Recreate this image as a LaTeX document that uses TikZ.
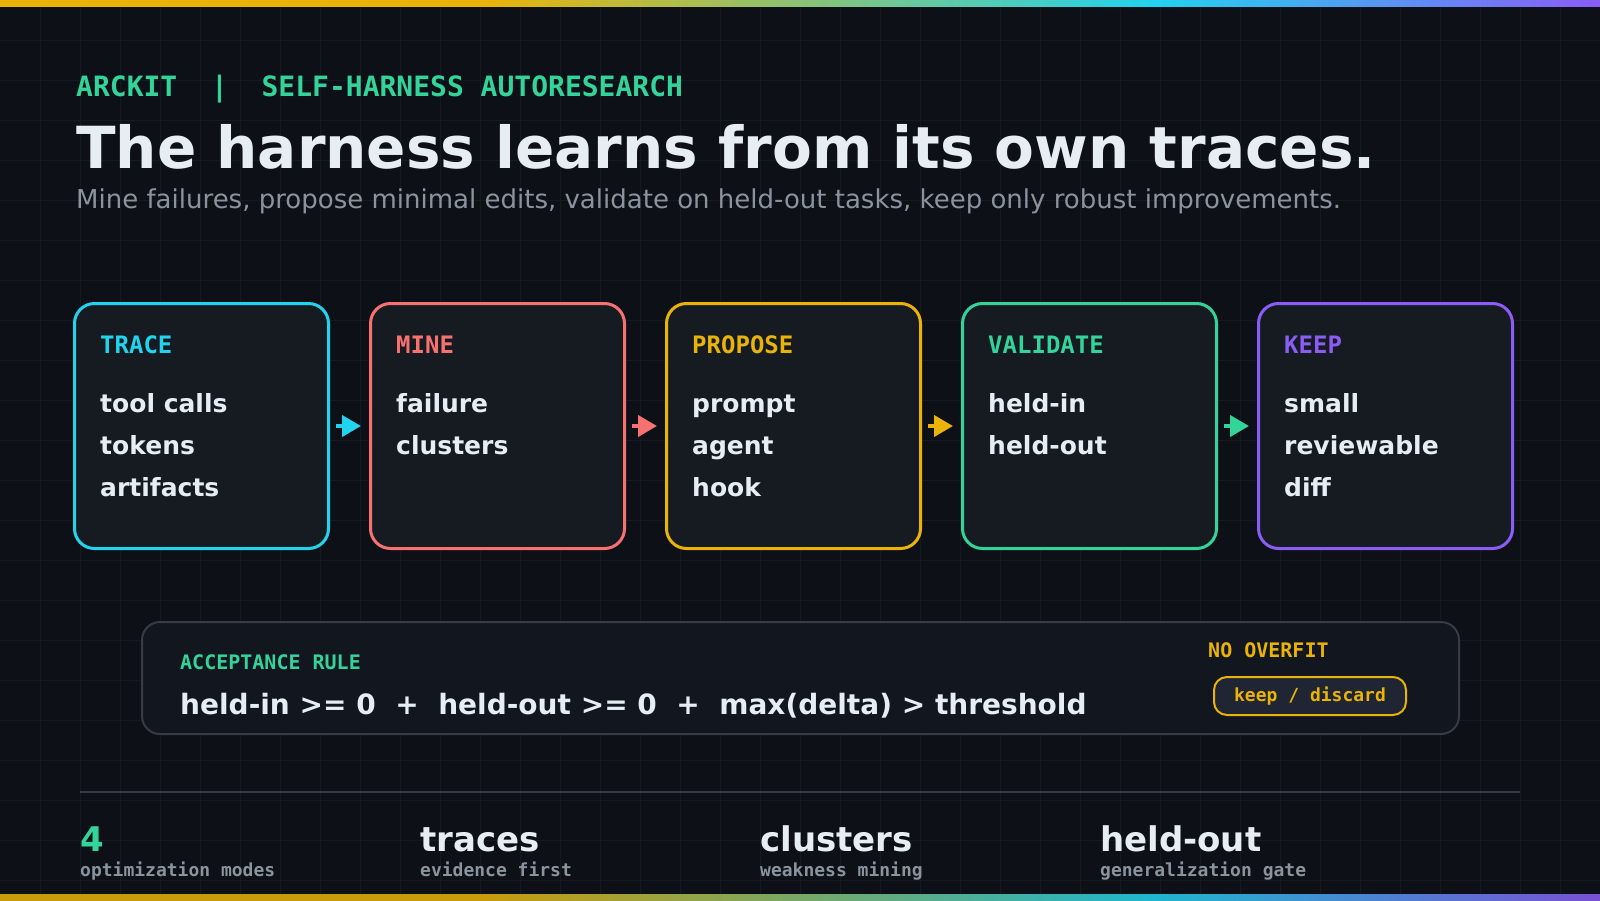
\documentclass[tikz,border=0pt]{standalone}
\usepackage{fontspec}
\setmainfont{DejaVu Sans}
\newfontfamily\monofont{DejaVu Sans Mono}
\usetikzlibrary{arrows.meta}
\definecolor{bgdark}{HTML}{0D1117}
\definecolor{gridline}{HTML}{151A21}
\definecolor{boxfill}{HTML}{161B22}
\definecolor{rulefill}{HTML}{12161E}
\definecolor{rulegray}{HTML}{363B44}
\definecolor{pillfill}{HTML}{1F2533}
\definecolor{inkwhite}{HTML}{E6EDF3}
\definecolor{inkgray}{HTML}{8B949E}
\definecolor{acyan}{HTML}{22D3EE}
\definecolor{acoral}{HTML}{F87171}
\definecolor{aamber}{HTML}{EAB308}
\definecolor{agreen}{HTML}{34D399}
\definecolor{apurple}{HTML}{8B5CF6}
\colorlet{dimamber}{aamber!85!bgdark}
\colorlet{dimcyan}{acyan!85!bgdark}
\colorlet{dimpurple}{apurple!85!bgdark}
\pgfdeclarehorizontalshading{topbar}{100bp}{color(0bp)=(aamber); color(40bp)=(aamber);
  color(61bp)=(acyan); color(75bp)=(apurple); color(100bp)=(apurple)}
\pgfdeclarehorizontalshading{bottombar}{100bp}{color(0bp)=(dimamber); color(40bp)=(dimamber);
  color(61bp)=(dimcyan); color(75bp)=(dimpurple); color(100bp)=(dimpurple)}

\begin{document}
\begin{tikzpicture}[x=1pt,y=-1pt,
  stage/.style={draw=#1,line width=3pt,rounded corners=20pt,fill=boxfill,
    minimum width=254pt,minimum height=245pt,inner sep=0pt},
  stagehead/.style={anchor=base west,text=#1,inner sep=0pt,
    font=\monofont\bfseries\fontsize{24}{28}\selectfont},
  stageitem/.style={anchor=base west,text=inkwhite,inner sep=0pt,
    font=\bfseries\fontsize{25}{30}\selectfont},
  flow/.style={draw=#1,line width=4pt,-{Triangle[length=19pt,width=21pt]},
    shorten <=6pt,shorten >=8pt},
  monolabel/.style={anchor=base west,inner sep=0pt,text=#1,
    font=\monofont\bfseries\fontsize{20}{24}\selectfont},
  statbig/.style={anchor=base west,inner sep=0pt,text=inkwhite,
    font=\bfseries\fontsize{34}{40}\selectfont},
  statsub/.style={anchor=base west,inner sep=0pt,text=inkgray,
    font=\monofont\bfseries\fontsize{18}{22}\selectfont}]

% Background and grid
\useasboundingbox (0,0) rectangle (1600,900);
\fill[bgdark] (0,0) rectangle (1600,900);
\foreach \gx in {40,80,...,1560} \draw[gridline,line width=1pt] (\gx,0) -- (\gx,900);
\foreach \gy in {40,80,...,880} \draw[gridline,line width=1pt] (0,\gy) -- (1600,\gy);

% Top and bottom bars
\shade[shading=topbar] (0,0) rectangle (1600,6.5);
\shade[shading=bottombar] (0,894) rectangle (1600,900);

% Heading
\node[anchor=base west,inner sep=0pt,text=agreen,font=\monofont\bfseries\fontsize{28}{32}\selectfont]
  (kicker) at (76,96) {ARCKIT\ \ |\ \ SELF-HARNESS AUTORESEARCH};
\node[anchor=base west,inner sep=0pt,text=inkwhite,font=\bfseries\fontsize{58}{64}\selectfont]
  (title) at (76,168) {The harness learns from its own traces.};
\node[anchor=base west,inner sep=0pt,text=inkgray,font=\fontsize{26}{30}\selectfont]
  (subtitle) at (76,208) {Mine failures, propose minimal edits, validate on held-out tasks, keep only robust improvements.};

% Stages
\node[stage=acyan] (trace) at (201.5,426) {};
\node[stage=acoral] (mine) at (497.5,426) {};
\node[stage=aamber] (propose) at (793.5,426) {};
\node[stage=agreen] (validate) at (1089.5,426) {};
\node[stage=apurple] (keep) at (1385.5,426) {};

\node[stagehead=acyan] (traceh) at ([shift={(27,51)}]trace.north west) {TRACE};
\node[stageitem] (trace1) at ([shift={(27,110)}]trace.north west) {tool calls};
\node[stageitem] (trace2) at ([shift={(27,152)}]trace.north west) {tokens};
\node[stageitem] (trace3) at ([shift={(27,194)}]trace.north west) {artifacts};

\node[stagehead=acoral] (mineh) at ([shift={(27,51)}]mine.north west) {MINE};
\node[stageitem] (mine1) at ([shift={(27,110)}]mine.north west) {failure};
\node[stageitem] (mine2) at ([shift={(27,152)}]mine.north west) {clusters};

\node[stagehead=aamber] (proposeh) at ([shift={(27,51)}]propose.north west) {PROPOSE};
\node[stageitem] (propose1) at ([shift={(27,110)}]propose.north west) {prompt};
\node[stageitem] (propose2) at ([shift={(27,152)}]propose.north west) {agent};
\node[stageitem] (propose3) at ([shift={(27,194)}]propose.north west) {hook};

\node[stagehead=agreen] (validateh) at ([shift={(27,51)}]validate.north west) {VALIDATE};
\node[stageitem] (validate1) at ([shift={(27,110)}]validate.north west) {held-in};
\node[stageitem] (validate2) at ([shift={(27,152)}]validate.north west) {held-out};

\node[stagehead=apurple] (keeph) at ([shift={(27,51)}]keep.north west) {KEEP};
\node[stageitem] (keep1) at ([shift={(27,110)}]keep.north west) {small};
\node[stageitem] (keep2) at ([shift={(27,152)}]keep.north west) {reviewable};
\node[stageitem] (keep3) at ([shift={(27,194)}]keep.north west) {diff};

% Flow arrows
\draw[flow=acyan] (trace) -- (mine);
\draw[flow=acoral] (mine) -- (propose);
\draw[flow=aamber] (propose) -- (validate);
\draw[flow=agreen] (validate) -- (keep);

% Acceptance rule
\node[draw=rulegray,line width=2pt,fill=rulefill,rounded corners=18pt,
  minimum width=1317pt,minimum height=112pt,inner sep=0pt] (rule) at (800.5,678) {};
\node[monolabel=agreen] (ruleh) at (180,669) {ACCEPTANCE RULE};
\node[anchor=base west,inner sep=0pt,text=inkwhite,font=\bfseries\fontsize{28}{32}\selectfont]
  (formula) at (180,714) {held-in >= 0\ \ +\ \ held-out >= 0\ \ +\ \ max(delta) > threshold};
\node[monolabel=aamber] (overfit) at (1208,657) {NO OVERFIT};
\node[draw=aamber,line width=2pt,fill=pillfill,rounded corners=13pt,
  minimum width=192pt,minimum height=38pt,inner sep=0pt,text=aamber,
  font=\monofont\bfseries\fontsize{18}{22}\selectfont] (verdict) at (1310,696) {keep / discard};

% Stats
\draw[rulegray,line width=2pt] (80,792) -- (1520,792);
\node[statbig,text=agreen] (modes) at (80,851) {4};
\node[statsub] (modess) at (80,876) {optimization modes};
\node[statbig] (traces) at (420,851) {traces};
\node[statsub] (tracess) at (420,876) {evidence first};
\node[statbig] (clusters) at (760,851) {clusters};
\node[statsub] (clusterss) at (760,876) {weakness mining};
\node[statbig] (heldout) at (1100,851) {held-out};
\node[statsub] (heldouts) at (1100,876) {generalization gate};
\end{tikzpicture}
\end{document}
